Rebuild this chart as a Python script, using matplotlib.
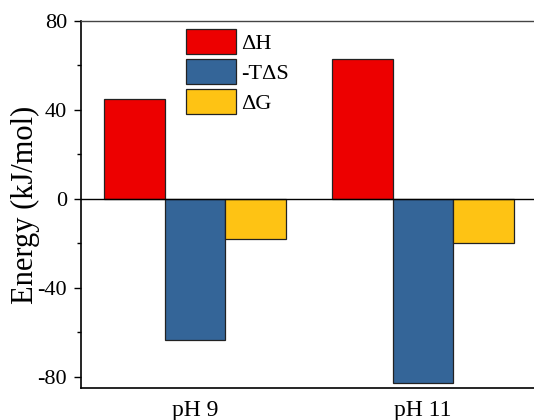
import numpy as np
import matplotlib.pyplot as plt
from matplotlib.ticker import MultipleLocator

groups = ['pH 9', 'pH 11']
labels = ['\u0394H', '-T\u0394S', '\u0394G']
dH = [44.9, 62.8]
TdS = [-63.4, -82.6]
dG = [-18.0, -19.9]
colors = ['#ed0000', '#346598', '#fec314']

plt.rcParams['font.family'] = ['Liberation Serif', 'DejaVu Serif']

fig = plt.figure(figsize=(5.34, 4.2), dpi=100)
ax = fig.add_axes([0.1517, 0.0762, 0.8539, 0.8738])

x = np.arange(len(groups))
w = 0.267
for i, (vals, lab, c) in enumerate(zip([dH, TdS, dG], labels, colors)):
    ax.bar(x + (i - 1) * w, vals, w, color=c, edgecolor='#222222',
           linewidth=0.9, label=lab, zorder=2)

ax.axhline(0, color='black', linewidth=1, zorder=3)
ax.set_xlim(-0.5, 1.5)
ax.set_ylim(-85, 80)
ax.set_xticks(x)
ax.set_xticklabels(groups, fontsize=17)
ax.tick_params(axis='x', length=0, pad=9)
ax.set_yticks([-80, -40, 0, 40, 80])
ax.set_yticklabels(['-80', '-40', '0', '40', '80'], fontsize=16)
ax.yaxis.set_minor_locator(MultipleLocator(20))
ax.tick_params(axis='y', which='major', direction='out', length=5, width=1, pad=5)
ax.tick_params(axis='y', which='minor', direction='out', length=3, width=1)
ax.set_ylabel('Energy (kJ/mol)', fontsize=22, labelpad=-2)

for s in ['left', 'bottom']:
    ax.spines[s].set_linewidth(1.2)
ax.spines['top'].set_color('#444444')
ax.spines['top'].set_linewidth(1.0)

ax.legend(loc='upper left', bbox_to_anchor=(0.23, 0.978), frameon=False,
          fontsize=16, handlelength=2.25, handleheight=1.355,
          labelspacing=0.225, handletextpad=0.22, borderpad=0, borderaxespad=0)

fig.savefig('out.png', dpi=100)
